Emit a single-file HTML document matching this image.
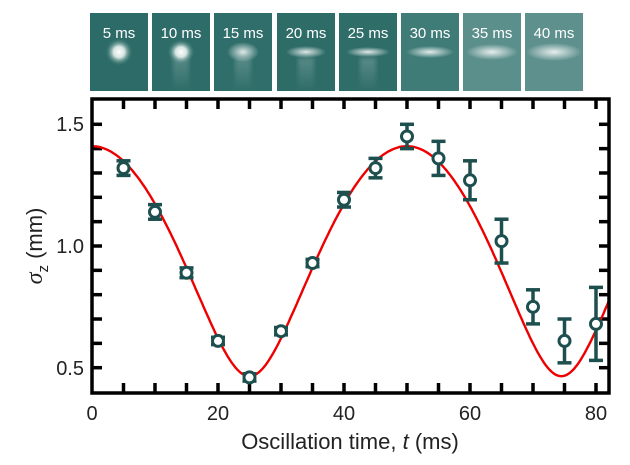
<!DOCTYPE html>
<html><head><meta charset="utf-8"><style>
body{margin:0;background:#fff;width:630px;height:460px;overflow:hidden;font-family:"Liberation Sans",sans-serif}
</style></head><body>
<svg width="630" height="460" viewBox="0 0 630 460" xmlns="http://www.w3.org/2000/svg">
<defs>
<radialGradient id="g1"><stop offset="0" stop-color="#fff"/><stop offset="0.4" stop-color="#e8f2ef" stop-opacity="0.9"/><stop offset="1" stop-color="#2f6f6b" stop-opacity="0"/></radialGradient>
<radialGradient id="g2"><stop offset="0" stop-color="#fff" stop-opacity="0.85"/><stop offset="1" stop-color="#fff" stop-opacity="0"/></radialGradient>
<linearGradient id="tail" x1="0" y1="0" x2="0" y2="1"><stop offset="0" stop-color="#fff" stop-opacity="0.2"/><stop offset="1" stop-color="#fff" stop-opacity="0"/></linearGradient>
<filter id="bl"><feGaussianBlur stdDeviation="2"/></filter>
</defs>
<g id="imgs"></g>
<g font-size="20" fill="#222" text-anchor="end">
<text x="84" y="131">1.5</text><text x="84" y="253">1.0</text><text x="84" y="375">0.5</text>
</g>
<g font-size="20" fill="#222" text-anchor="middle">
<text x="92" y="420">0</text><text x="218" y="420">20</text><text x="344" y="420">40</text><text x="470" y="420">60</text><text x="596" y="420">80</text>
<text x="350" y="449" font-size="22">Oscillation time, <tspan font-style="italic">t</tspan> (ms)</text>
</g>
<text transform="translate(42,246) rotate(-90)" font-size="22" fill="#222" text-anchor="middle"><tspan font-family="Liberation Serif" font-style="italic" font-size="24">σ</tspan><tspan font-size="15" dy="6">z</tspan><tspan dy="-6"> (mm)</tspan></text>
<g id="ticks" stroke="#000" stroke-width="3.5"></g>
<path id="curve" fill="none" stroke="#e00" stroke-width="2.4"/>
<g id="pts"></g>
<rect x="92" y="99" width="517" height="294" fill="none" stroke="#000" stroke-width="3.5"/>
</svg>
<script>
var ns="http://www.w3.org/2000/svg";
function el(p,t,a){var e=document.createElementNS(ns,t);for(var k in a)e.setAttribute(k,a[k]);p.appendChild(e);return e;}
function X(t){return 92+6.3*t}function Y(v){return 367.7-(v-0.5)*243.4}
var im=document.getElementById('imgs');
var xs=[90,152,214,277,339,401,463,525],labs=["5 ms","10 ms","15 ms","20 ms","25 ms","30 ms","35 ms","40 ms"];
var bg=["#2c6b67","#2d6c68","#2f6e6a","#2e6c68","#2f6d69","#3f7c78","#5b8f8b","#5e908d"];
for(var i=0;i<8;i++){var x=xs[i];el(im,'rect',{x:x,y:13,width:58,height:78,fill:bg[i]});
var rx=[14,14,16,20,22,24,26,28][i],ry=[14,13,10,6,5,6,8,9][i];
if(i>=1&&i<=4)el(im,'rect',{x:x+21,y:58,width:16,height:33,fill:'url(#tail)',filter:'url(#bl)'});
el(im,'ellipse',{cx:x+29,cy:52,rx:rx,ry:ry,fill:i<2?'url(#g1)':'url(#g2)'});
var t=el(im,'text',{x:x+29,y:38,'font-size':15,'text-anchor':'middle',fill:'#fff'});t.textContent=labs[i];}
var tk=document.getElementById('ticks');
for(var t=5;t<=80;t+=5){el(tk,'line',{x1:X(t),x2:X(t),y1:393,y2:383});el(tk,'line',{x1:X(t),x2:X(t),y1:99,y2:109});}
for(var v=0.5;v<=1.51;v+=0.1){var y=Y(v);el(tk,'line',{x1:92,x2:102,y1:y,y2:y});el(tk,'line',{x1:609,x2:599,y1:y,y2:y});}
var d="";for(var t=0;t<=82;t+=0.25){var a=t<50?Math.PI*t/50:Math.PI*(1+(t-50)/49);var c=Math.cos(a),s=Math.sin(a);var v=Math.sqrt(1.41*1.41*c*c+0.465*0.465*s*s);d+=(t?"L":"M")+X(t).toFixed(1)+","+Y(v).toFixed(1);}
document.getElementById('curve').setAttribute('d',d);
var data=[[5,1.32,.03],[10,1.14,.03],[15,.89,.02],[20,.61,.015],[25,.46,.015],[30,.65,.015],[35,.93,.015],[40,1.19,.03],[45,1.32,.04],[50,1.45,.05],[55,1.36,.07],[60,1.27,.08],[65,1.02,.09],[70,.75,.07],[75,.61,.09],[80,.68,.15]];
var pg=document.getElementById('pts');
data.forEach(function(p){var x=X(p[0]),y1=Y(p[1]+p[2]),y2=Y(p[1]-p[2]);
el(pg,'line',{x1:x,x2:x,y1:y1,y2:y2,stroke:'#1e4f4f','stroke-width':3.5});
el(pg,'line',{x1:x-7,x2:x+7,y1:y1,y2:y1,stroke:'#1e4f4f','stroke-width':3.5});
el(pg,'line',{x1:x-7,x2:x+7,y1:y2,y2:y2,stroke:'#1e4f4f','stroke-width':3.5});
el(pg,'circle',{cx:x,cy:Y(p[1]),r:5.5,fill:'#fff',stroke:'#1e4f4f','stroke-width':3});});
</script>
</body></html>
